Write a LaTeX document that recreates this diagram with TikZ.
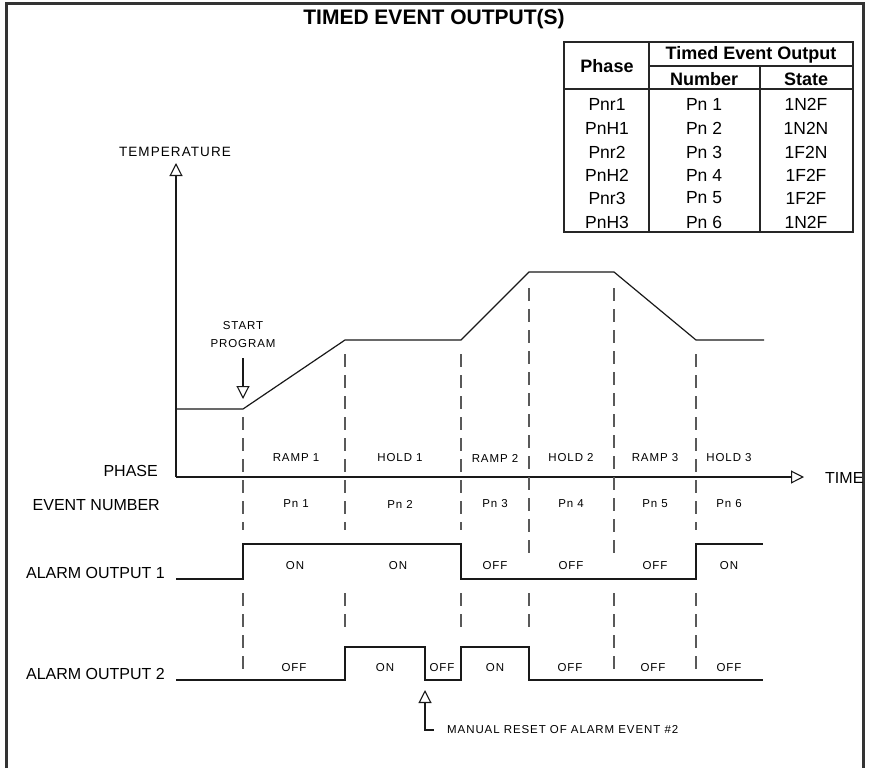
\documentclass[tikz,border=0pt]{standalone}
\usepackage{fontspec}
\setmainfont{Liberation Sans}
\newfontfamily\cad[LetterSpace=8]{Liberation Sans}
\usetikzlibrary{arrows.meta}
\begin{document}
\begin{tikzpicture}[x=1pt,y=-1pt,
  big/.style={font=\fontsize{16}{16}\selectfont, inner sep=0pt},
  sml/.style={font=\cad\fontsize{11.5}{11.5}\selectfont, inner sep=0pt},
  tb/.style={font=\fontsize{17.5}{17.5}\selectfont, inner sep=0pt},
  tbh/.style={font=\bfseries\fontsize{18}{18}\selectfont, inner sep=0pt},
  dsh/.style={dash pattern=on 13pt off 8pt, line width=1.2pt, draw=black!65},
  ln/.style={line width=1.2pt, draw=black!90},
  tri/.style={-{Triangle[open,length=13pt,width=13pt,line width=1.1pt]}},
  tline/.style={line width=1.4pt, draw=black!85}]
\useasboundingbox (0,0) rectangle (869,768);
% frame
\draw[line width=3pt, draw=black!80] (6,768) -- (6,4) -- (863,4) -- (863,768);
\node[font=\bfseries\fontsize{21}{21}\selectfont, inner sep=0pt] (title) at (434,19) {TIMED EVENT OUTPUT(S)};
% table
\draw[line width=2.2pt, draw=black!85] (564,42) rectangle (853,232);
\draw[tline] (649,42) -- (649,232);
\draw[tline] (760,66) -- (760,232);
\draw[tline] (649,66) -- (853,66);
\draw[tline] (564,89) -- (853,89);
\node[tbh] (hph) at (607,66) {Phase};
\node[tbh] (hteo) at (751,55) {Timed Event Output};
\node[tbh] (hnum) at (704,79) {Number};
\node[tbh] (hst) at (806,79) {State};
\foreach \i/\y/\a/\b/\c in {1/104/Pnr1/Pn 1/1N2F, 2/128/PnH1/Pn 2/1N2N, 3/152/Pnr2/Pn 3/1F2N, 4/175/PnH2/Pn 4/1F2F, 5/198/Pnr3/Pn 5/1F2F, 6/222/PnH3/Pn 6/1N2F}{
  \node[tb] (ph\i) at (607,\y) {\a};
  \node[tb] (nu\i) at (704,\y) {\b};
  \node[tb] (st\i) at (806,\y) {\c};
}
% axes
\node[font=\cad\fontsize{13.5}{13.5}\selectfont, inner sep=0pt] (temp) at (175,152) {TEMPERATURE};
\coordinate (ttip) at (176,163);
\coordinate (orig) at (176,477);
\coordinate (xtip) at (804,477);
\draw[ln, tri] (orig) -- (ttip);
\draw[ln, tri] (orig) -- (xtip);
\node[big, anchor=west] (time) at (825,478) {TIME};
% temperature profile
\draw[ln] (orig |- 0,409) -- (243,409) -- (345,340) -- (461,340) -- (529,272) -- (614,272) -- (696,340) -- (764,340);
\node[sml, align=center, font=\cad\fontsize{11.5}{18}\selectfont] (start) at (243,335) {START\\PROGRAM};
\coordinate (sa) at (243,358);
\coordinate (sb) at (243,399);
\draw[ln, tri] (sa) -- (sb);
% dashed phase boundaries
\draw[dsh] (243,417) -- (243,530) (243,593) -- (243,669);
\draw[dsh] (345,354) -- (345,530) (345,593) -- (345,635);
\draw[dsh] (461,354) -- (461,530) (461,593) -- (461,635);
\draw[dsh] (529,288) -- (529,556) (529,593) -- (529,635);
\draw[dsh] (614,288) -- (614,556) (614,593) -- (614,669);
\draw[dsh] (696,354) -- (696,530) (696,593) -- (696,669);
% row labels
\node[big, anchor=east] (lphase) at (158,471) {PHASE};
\node[big, anchor=east] (levent) at (160,505) {EVENT NUMBER};
\node[big, anchor=east] (la1) at (165,573) {ALARM OUTPUT 1};
\node[big, anchor=east] (la2) at (165,674) {ALARM OUTPUT 2};
% phase names
\node[sml] (r1) at (296,458) {RAMP 1};
\node[sml] (h1) at (400,458) {HOLD 1};
\node[sml] (r2) at (495,458) {RAMP 2};
\node[sml] (h2) at (571,458) {HOLD 2};
\node[sml] (r3) at (655,458) {RAMP 3};
\node[sml] (h3) at (729,458) {HOLD 3};
% event numbers
\node[sml] (e1) at (296,504) {Pn 1};
\node[sml] (e2) at (400,504) {Pn 2};
\node[sml] (e3) at (495,504) {Pn 3};
\node[sml] (e4) at (571,504) {Pn 4};
\node[sml] (e5) at (655,504) {Pn 5};
\node[sml] (e6) at (729,504) {Pn 6};
% alarm output 1
\draw[ln] (176,579) -- (243,579) -- (243,544) -- (461,544) -- (461,579) -- (696,579) -- (696,544) -- (763,544);
\node[sml] (a11) at (295,566) {ON};
\node[sml] (a12) at (398,566) {ON};
\node[sml] (a13) at (495,566) {OFF};
\node[sml] (a14) at (571,566) {OFF};
\node[sml] (a15) at (655,566) {OFF};
\node[sml] (a16) at (729,566) {ON};
% alarm output 2
\draw[ln] (176,680) -- (345,680) -- (345,647) -- (425,647) -- (425,680) -- (461,680) -- (461,647) -- (529,647) -- (529,680) -- (763,680);
\node[sml] (a21) at (294,668) {OFF};
\node[sml] (a22) at (385,668) {ON};
\node[sml] (a23) at (442,668) {OFF};
\node[sml] (a24) at (495,668) {ON};
\node[sml] (a25) at (570,668) {OFF};
\node[sml] (a26) at (653,668) {OFF};
\node[sml] (a27) at (729,668) {OFF};
% manual reset
\coordinate (mtip) at (425,690);
\coordinate (mcor) at (425,730);
\coordinate (mend) at (434,730);
\draw[ln, {Triangle[open,length=13pt,width=13pt,line width=1.1pt]}-] (mtip) -- (mcor) -- (mend);
\node[sml, anchor=west] (mr) at (447,730) {MANUAL RESET OF ALARM EVENT \#2};
\end{tikzpicture}
\end{document}
